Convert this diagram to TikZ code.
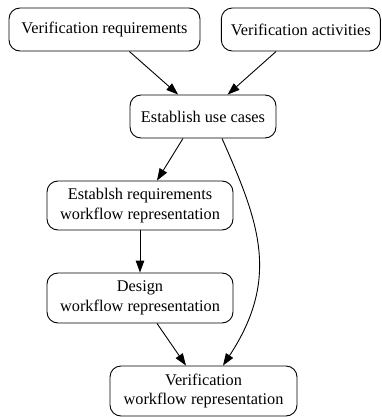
\documentclass[tikz,border=0pt]{standalone}
\usepackage{fontspec}
\setmainfont{Liberation Serif}
\usetikzlibrary{arrows.meta}
\begin{document}
\begin{tikzpicture}[x=1pt,y=-1pt,
  stepbox/.style={draw, line width=0.9pt, rounded corners=11pt, align=center,
    inner sep=0pt, font=\fontsize{16.3}{19.5}\selectfont},
  flow/.style={draw, line width=0.9pt, -{Triangle[length=12pt,width=8.5pt]}}]
\useasboundingbox (0,0) rectangle (382,417);
\node[stepbox, minimum width=191pt, minimum height=43pt] (req) at (104.5,29.5) {Verification requirements};
\node[stepbox, minimum width=159pt, minimum height=43pt] (act) at (300.8,29.5) {Verification activities};
\node[stepbox, minimum width=146pt, minimum height=43pt] (use) at (203,116.5) {Establish use cases};
\node[stepbox, minimum width=186pt, minimum height=49pt] (reqwf) at (140,205.5) {Establsh requirements\\workflow representation};
\node[stepbox, minimum width=186pt, minimum height=50pt] (des) at (140,298) {Design\\workflow representation};
\node[stepbox, minimum width=187pt, minimum height=50pt] (ver) at (203.5,391) {Verification\\workflow representation};
\draw[flow] (req) -- (use);
\draw[flow] (act) -- (use);
\draw[flow] ([xshift=-20pt]use.south) -- ([xshift=17pt]reqwf.north);
\draw[flow] (reqwf) -- (des);
\draw[flow] ([xshift=17pt]des.south) -- ([xshift=-17.5pt]ver.north);
\draw[flow] ([xshift=19pt]use.south) .. controls (259,222) and (280.5,278) .. ([xshift=19.5pt]ver.north);
\end{tikzpicture}
\end{document}
